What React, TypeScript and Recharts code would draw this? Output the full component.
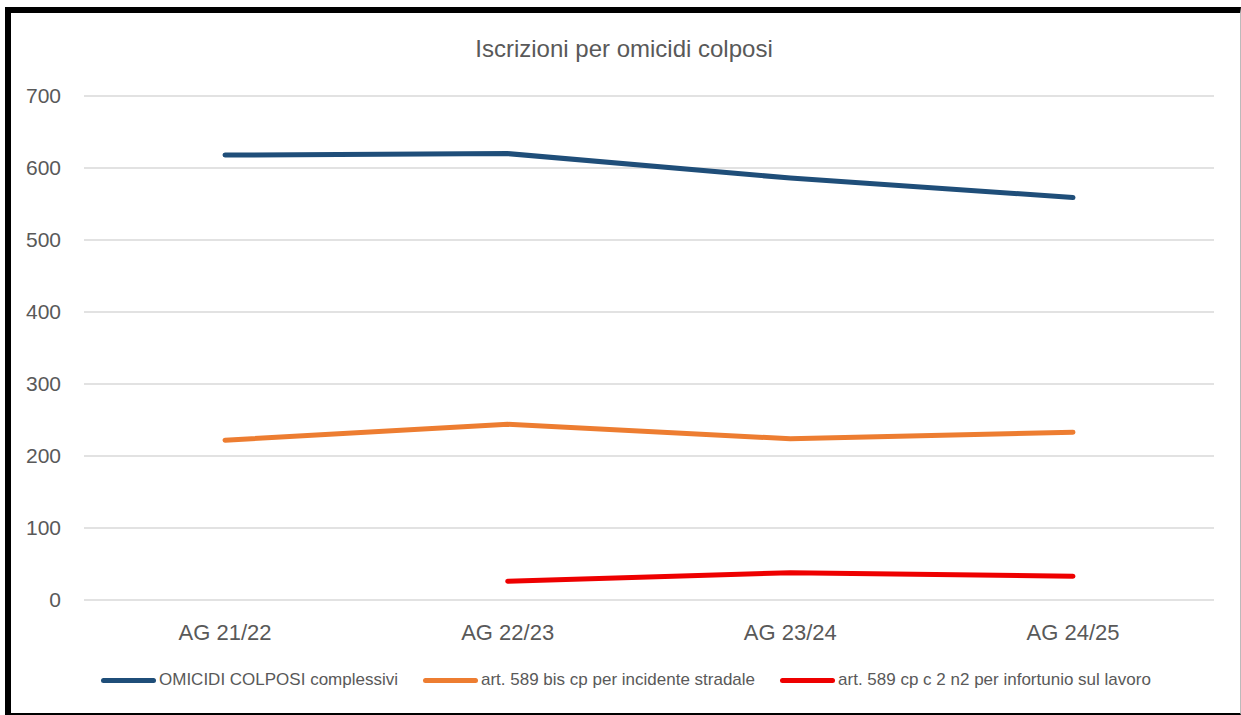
import { LineChart, Line, XAxis, YAxis, CartesianGrid } from 'recharts';

const categories = ['AG 21/22', 'AG 22/23', 'AG 23/24', 'AG 24/25'];
const omicidiTotali = [618, 620, 586, 559];
const incidenteStradale = [222, 244, 224, 233];
const infortunioLavoro: (number | null)[] = [null, 26, 38, 33];
const yTicks = [0, 100, 200, 300, 400, 500, 600, 700];

const series = [
  { key: 'totali', name: 'OMICIDI COLPOSI complessivi', color: '#1F4E79' },
  { key: 'stradale', name: 'art. 589 bis cp per incidente stradale', color: '#ED7D31' },
  { key: 'lavoro', name: 'art. 589 cp c 2 n2 per infortunio sul lavoro', color: '#EE0000' },
];

const data = categories.map((label, i) => ({
  label,
  totali: omicidiTotali[i],
  stradale: incidenteStradale[i],
  lavoro: infortunioLavoro[i],
}));

const FONT = '"Liberation Sans", Arial, sans-serif';

export default function App() {
  return (
    <div style={{ position: 'fixed', left: 0, top: 0, width: 1241, height: 715, background: '#fff', fontFamily: FONT }}>
      <div
        style={{
          position: 'absolute', left: 5, top: 7, width: 1236, height: 708, boxSizing: 'border-box',
          borderTop: '6px solid #000', borderLeft: '6px solid #000', borderBottom: '2px solid #000', borderRight: '1px solid #bbb',
        }}
      />
      <div style={{ position: 'absolute', left: 324, top: 35, width: 600, textAlign: 'center', fontSize: 24, color: '#595959' }}>
        Iscrizioni per omicidi colposi
      </div>
      <div style={{ position: 'absolute', left: 0, top: 0 }}>
        <LineChart width={1241} height={715} data={data} margin={{ top: 96, right: 27, bottom: 85, left: 0 }}>
          <CartesianGrid vertical={false} stroke="#D9D9D9" strokeWidth={1.5} />
          <XAxis
            dataKey="label"
            height={30}
            padding={{ left: 141, right: 141 }}
            axisLine={false}
            tickLine={false}
            tickMargin={18}
            tick={{ fontSize: 22, fill: '#595959', fontFamily: FONT }}
          />
          <YAxis
            width={84}
            domain={[0, 700]}
            ticks={yTicks}
            axisLine={false}
            tickLine={false}
            tickMargin={17}
            tick={{ fontSize: 21, fill: '#595959', fontFamily: FONT }}
          />
          {series.map((s) => (
            <Line
              key={s.key}
              type="linear"
              dataKey={s.key}
              name={s.name}
              stroke={s.color}
              strokeWidth={5}
              strokeLinecap="round"
              dot={false}
              activeDot={false}
              isAnimationActive={false}
            />
          ))}
        </LineChart>
      </div>
      <div style={{ position: 'absolute', left: 101, top: 670, display: 'flex', gap: 25, alignItems: 'center' }}>
        {series.map((s) => (
          <div key={s.key} style={{ display: 'flex', alignItems: 'center', gap: 3 }}>
            <span style={{ display: 'inline-block', width: 55, height: 5, borderRadius: 3, background: s.color }} />
            <span style={{ fontSize: 17, color: '#595959' }}>{s.name}</span>
          </div>
        ))}
      </div>
    </div>
  );
}
